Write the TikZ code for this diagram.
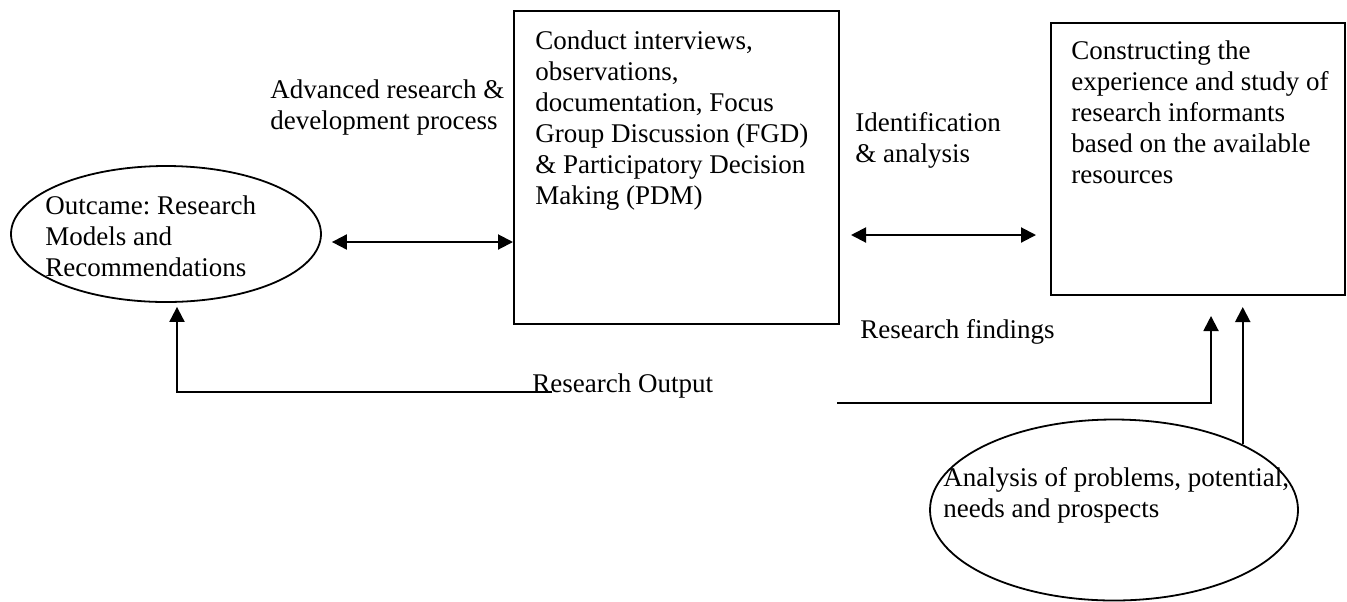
\documentclass[tikz,border=0pt]{standalone}
\usepackage{fontspec}
\setmainfont{Liberation Serif}
\usetikzlibrary{arrows.meta,shapes.geometric,positioning}

\tikzset{
  txt/.style={font=\fontsize{13.5pt}{15.5pt}\selectfont\frenchspacing, inner sep=0pt, align=left},
  stagebox/.style={draw, line width=1pt, inner sep=0pt},
  bubble/.style={draw, ellipse, line width=0.9pt, inner sep=0pt},
  twoway/.style={{Triangle[length=7.5pt,width=7.5pt]}-{Triangle[length=7.5pt,width=7.5pt]}, line width=1pt},
  oneway/.style={-{Triangle[length=7.5pt,width=7.5pt]}, line width=1pt}
}

\begin{document}
\begin{tikzpicture}[x=0.5pt, y=-0.5pt]
\useasboundingbox (0,0) rectangle (1347,601);

% boxes
\node[stagebox, minimum width=162.5pt, minimum height=156.5pt] (conduct) at (676.5,167.5) {};
\node[txt, anchor=north west] (conducttext) at ([xshift=11pt,yshift=-10pt]conduct.north west)
  {Conduct interviews,\\observations,\\documentation, Focus\\Group Discussion (FGD)\\\& Participatory Decision\\Making (PDM)};

\node[stagebox, minimum width=147pt, minimum height=136pt] (construct) at (1198,159) {};
\node[txt, anchor=north west] (constructtext) at ([xshift=10.5pt,yshift=-9pt]construct.north west)
  {Constructing the\\experience and study of\\research informants\\based on the available\\resources};

% ellipses
\node[bubble, minimum width=155pt, minimum height=68pt] (outcome) at (166,234) {};
\node[txt, anchor=west] (outcometext) at (45,236)
  {Outcame: Research\\Models and\\Recommendations};

\node[bubble, minimum width=184pt, minimum height=90.5pt] (analysis) at (1114,510) {};
\node[txt, anchor=west] (analysistext) at (943,495)
  {Analysis of problems, potential,\\needs and prospects};

% labels
\node[txt, anchor=west] (advlabel) at (270,107.5) {Advanced research \&\\development process};
\node[txt, anchor=west] (identlabel) at (855,140) {Identification\\\& analysis};
\node[txt, anchor=west] (findlabel) at (860,332) {Research findings};
\node[txt, anchor=base west] (outputlabel) at (532,392) {Research Output};

% connectors
\draw[twoway, shorten <=5pt] (outcome.east |- 0,242) -- (conduct.west |- 0,242);
\draw[twoway, shorten <=5.5pt, shorten >=7pt] (conduct.east |- 0,235) -- (construct.west |- 0,235);

\coordinate (outputend) at (552,392);
\draw[oneway] (outputend) -| ([xshift=5.5pt,yshift=-2pt]outcome.south);

\coordinate (findingsstart) at (837,403);
\draw[oneway] (findingsstart) -| ([xshift=6.5pt,yshift=-10pt]construct.south);

\draw[oneway] (analysis.27) -- ([yshift=-5.5pt]analysis.27 |- construct.south);
\end{tikzpicture}
\end{document}
